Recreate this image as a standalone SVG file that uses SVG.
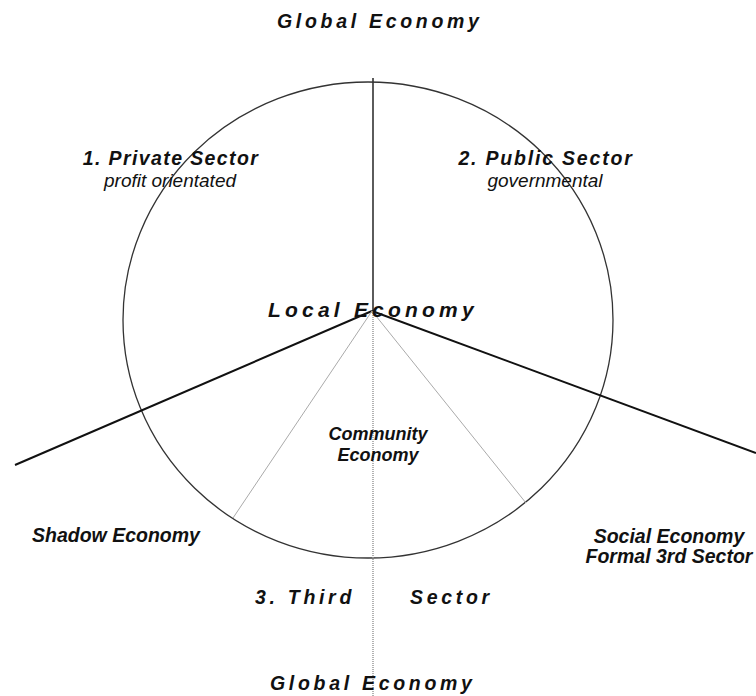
<svg xmlns="http://www.w3.org/2000/svg" width="756" height="696" viewBox="0 0 756 696">
<style>
text{font-family:"Liberation Sans",Arial,sans-serif;fill:#111;font-style:italic}
.b{font-weight:bold;font-size:19.5px}
.sp{font-weight:bold;font-size:19.5px;letter-spacing:3.7px}
.sub{font-size:19px;text-anchor:middle}
.mid{text-anchor:middle}
.thick{stroke:#111;stroke-width:2;fill:none}
.thin{stroke:#aaa;stroke-width:1;fill:none}
</style>
<rect width="756" height="696" fill="#fff"/>
<g id="circle"><ellipse cx="368" cy="320" rx="245" ry="238" fill="none" stroke="#333" stroke-width="1.3"/></g>
<g id="connectors">
<line x1="373" y1="78" x2="373" y2="311" stroke="#333" stroke-width="1.6"/>
<line class="thick" x1="15" y1="465" x2="372" y2="311"/>
<line class="thick" x1="372" y1="311" x2="756" y2="453"/>
<line class="thin" x1="372" y1="311" x2="233" y2="518"/>
<line class="thin" x1="372" y1="311" x2="526" y2="503"/>
<line x1="373" y1="311" x2="373" y2="696" stroke="#999" stroke-width="1.5" stroke-dasharray="1 1"/>
</g>
<g id="global-top"><text class="sp" x="277" y="28">Global Economy</text></g>
<g id="private"><text class="b mid" x="171" y="165" style="letter-spacing:1.4px">1. Private Sector</text><text class="sub" x="170" y="187">profit orientated</text></g>
<g id="public"><text class="b mid" x="546" y="165" style="letter-spacing:1.8px">2. Public Sector</text><text class="sub" x="545" y="187">governmental</text></g>
<g id="local"><text x="268" y="317" style="font-weight:bold;font-size:21px;letter-spacing:4.2px">Local Economy</text></g>
<g id="community"><text class="mid" x="378" y="440" style="font-weight:bold;font-size:18px">Community</text><text class="mid" x="378" y="461" style="font-weight:bold;font-size:18px">Economy</text></g>
<g id="shadow"><text class="b" x="32" y="542">Shadow Economy</text></g>
<g id="social"><text class="b mid" x="669" y="543">Social Economy</text><text class="b mid" x="669" y="563">Formal 3rd Sector</text></g>
<g id="third"><text class="sp" x="255" y="604">3. Third</text><text class="sp" x="410" y="604">Sector</text></g>
<g id="global-bottom"><text class="sp" x="270" y="690">Global Economy</text></g>
</svg>
